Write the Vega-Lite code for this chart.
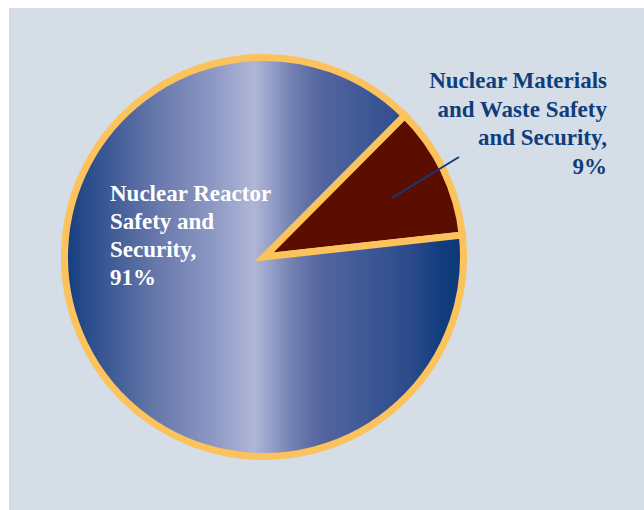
{
  "$schema": "https://vega.github.io/schema/vega-lite/v6.json",
  "width": 644,
  "height": 510,
  "autosize": {"type": "fit", "contains": "padding"},
  "padding": {"left": 9, "top": 8, "right": 0, "bottom": 0},
  "background": "white",
  "view": {"fill": "#d5dde6", "stroke": null},
  "datasets": {
    "shares": [
      {"category": "Nuclear Materials and Waste Safety and Security", "share": 10.8, "ord": 1, "label": ["Nuclear Materials", "and Waste Safety", "and Security,", "9%"]},
      {"category": "Nuclear Reactor Safety and Security", "share": 89.2, "ord": 2, "label": ["Nuclear Reactor", "Safety and", "Security,", "91%"]}
    ]
  },
  "data": {"name": "shares"},
  "layer": [
    {
      "mark": {"type": "arc", "radius": 199.5, "x": 255, "y": 249, "stroke": "#fcc25b", "strokeWidth": 7, "strokeJoin": "miter"},
      "encoding": {
        "theta": {"field": "share", "type": "quantitative", "stack": true, "scale": {"range": [0.782, 7.0652]}},
        "order": {"field": "ord", "type": "quantitative"},
        "fill": {
          "condition": {"test": "datum.ord == 1", "value": "#5b0e00"},
          "value": {
            "gradient": "linear", "x1": 0, "x2": 1, "y1": 0, "y2": 0,
            "stops": [
              {"offset": 0, "color": "#123c7e"},
              {"offset": 0.04, "color": "#244888"},
              {"offset": 0.24, "color": "#6a7aac"},
              {"offset": 0.37, "color": "#8c98c4"},
              {"offset": 0.475, "color": "#b0b6d6"},
              {"offset": 0.51, "color": "#9aa3cc"},
              {"offset": 0.575, "color": "#6f7faf"},
              {"offset": 0.64, "color": "#5566a0"},
              {"offset": 0.74, "color": "#425a98"},
              {"offset": 0.87, "color": "#2a4a8a"},
              {"offset": 0.94, "color": "#123e7e"},
              {"offset": 1, "color": "#0c387a"}
            ]
          }
        }
      }
    },
    {
      "transform": [{"filter": "datum.ord == 1"}],
      "mark": {"type": "rule", "stroke": "#0f3d7c", "strokeWidth": 2},
      "encoding": {
        "x": {"value": 383},
        "y": {"value": 190},
        "x2": {"value": 450},
        "y2": {"value": 149}
      }
    },
    {
      "transform": [{"filter": "datum.ord == 2"}],
      "mark": {"type": "text", "x": 101, "y": 193, "align": "left", "baseline": "alphabetic", "font": "Liberation Serif", "fontWeight": "bold", "fontSize": 23, "lineHeight": 28, "fill": "white"},
      "encoding": {"text": {"field": "label"}}
    },
    {
      "transform": [{"filter": "datum.ord == 1"}],
      "mark": {"type": "text", "x": 598, "y": 80, "align": "right", "baseline": "alphabetic", "font": "Liberation Serif", "fontWeight": "bold", "fontSize": 23, "lineHeight": 28.5, "fill": "#0f3d7c"},
      "encoding": {"text": {"field": "label"}}
    }
  ]
}
